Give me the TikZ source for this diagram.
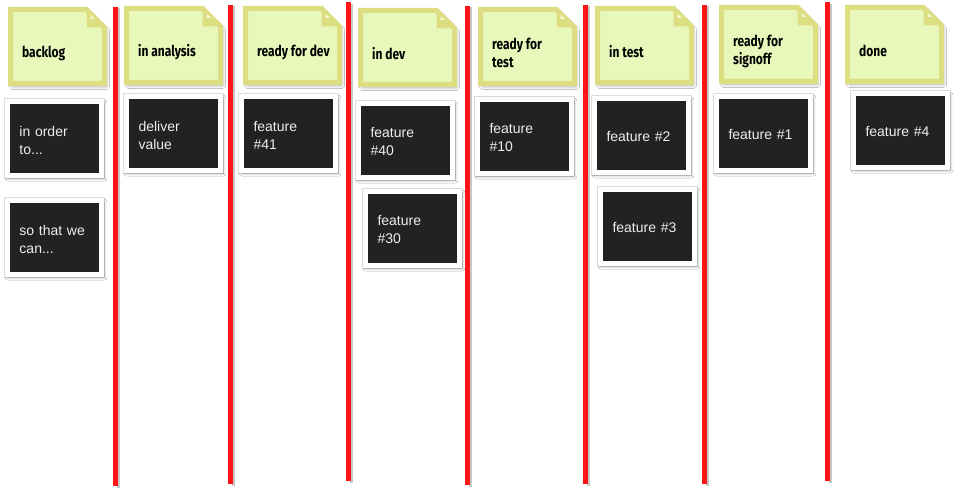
\documentclass[tikz,border=0pt]{standalone}
\usepackage{fontspec}
\setmainfont{Liberation Sans}
\newfontfamily\handfont[FakeStretch=0.8]{Fira Sans Bold}
\usetikzlibrary{shadows.blur}
\definecolor{stickyfill}{HTML}{E8F8BB}
\definecolor{stickyedge}{HTML}{DDDD82}
\definecolor{redc}{HTML}{FF1515}
\definecolor{carddark}{HTML}{222222}
\definecolor{cardtext}{HTML}{EEEEEE}
\tikzset{
  stickyshape/.style={fill=stickyfill, draw=stickyedge, line width=5pt, line join=miter,
    blur shadow={shadow xshift=2pt, shadow yshift=-3pt, shadow opacity=35, shadow blur radius=3pt}},
  foldflap/.style={fill=stickyedge},
  foldlight/.style={fill=stickyfill!60!white},
  stickytext/.style={anchor=west, align=left, inner sep=0pt, font=\handfont\fontsize{15}{18}\selectfont, text=black},
  card/.style={rectangle, fill=carddark, draw=white, line width=5pt,
    minimum width=94pt, minimum height=74pt, inner sep=0pt,
    preaction={draw=black!14, line width=6.2pt},
    blur shadow={shadow xshift=1.5pt, shadow yshift=-2pt, shadow opacity=35, shadow blur radius=2.5pt, shadow scale=1.025}},
  cardtxt/.style={text width=70pt, inner sep=0pt, align=left, text=cardtext,
    font=\fontsize{14}{18}\selectfont, yshift=-1.5pt},
  redline/.style={draw=redc, line width=5pt},
  redshadow/.style={draw=black, opacity=0.22, line width=3pt},
}
\newcommand\stickynote[4]{%
  \begin{scope}[shift={(#2,#3)}]
    \path[stickyshape] (2.5,2.5) -- (78.5,2.5) -- (96.5,20.5) -- (96.5,76.5) -- (2.5,76.5) -- cycle;
    \fill[foldflap] (78.5,2.5) -- (78.5,20.5) -- (96.5,20.5) -- cycle;
    \fill[foldlight] (82.5,8) -- (82.5,12) -- (87,12) -- cycle;
  \end{scope}
  \node[stickytext] (#1) at (#2+14,#3+46) {#4};
}
\newcommand\kcard[3]{% name, position, text
  \node[card, label={[cardtxt]center:{#3}}] (#1) at (#2) {};
}
\begin{document}
\begin{tikzpicture}[x=1pt,y=-1pt]
\useasboundingbox[fill=white] (0,0) rectangle (956,500);
% red column separators
\foreach \n/\xx/\tp/\bt in {1/115.5/7/486, 2/230.5/5/484, 3/348.5/2.5/481, 4/467.5/6/485, 5/585.5/5/484, 6/704.5/5/484, 7/827.5/2.5/481}{
  \coordinate (t\n) at (\xx,\tp);
  \coordinate (b\n) at (\xx,\bt);
  \draw[redshadow] ([xshift=3pt,yshift=-1.5pt]t\n) -- ([xshift=3pt,yshift=-1.5pt]b\n);
  \draw[redline] (t\n) -- (b\n);
}
% column headers
\stickynote{backlog}{8}{7}{backlog}
\stickynote{analysis}{124}{6}{in analysis}
\stickynote{readydev}{243}{6}{ready for dev}
\stickynote{indev}{358}{8}{in dev}
\stickynote{readytest}{478}{7}{ready for\\test}
\stickynote{intest}{595}{6}{in test}
\stickynote{readysign}{719}{5}{ready for\\signoff}
\stickynote{done}{845}{5}{done}
% cards
\kcard{c1}{54.5,138.5}{in order\\to...}
\kcard{c2}{54.5,237.5}{so that we\\can...}
\kcard{c3}{173.5,133.5}{deliver\\value}
\kcard{c4}{288.5,133.5}{feature\\\#41}
\kcard{c5}{405.5,140.5}{feature\\\#40}
\kcard{c6}{412.5,228.5}{feature\\\#30}
\kcard{c7}{524.5,136.5}{feature\\\#10}
\kcard{c8}{641.5,135.5}{feature \#2}
\kcard{c9}{647.5,226.5}{feature \#3}
\kcard{c10}{763.5,133.5}{feature \#1}
\kcard{c11}{900.5,130.5}{feature \#4}
\end{tikzpicture}
\end{document}
